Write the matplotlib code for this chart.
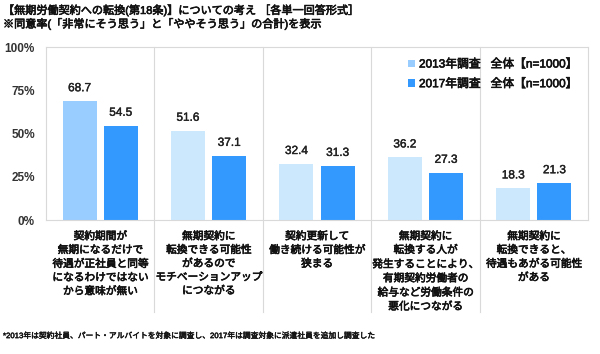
import matplotlib
matplotlib.use("Agg")
import matplotlib.pyplot as plt
import matplotlib.transforms as mtransforms
import matplotlib.patheffects as pe
import numpy as np

plt.rcParams['font.family'] = ['Liberation Sans', 'Noto Sans CJK JP', 'DejaVu Sans']

categories = [
    "契約期間が\n無期になるだけで\n待遇が正社員と同等\nになるわけではない\nから意味が無い",
    "無期契約に\n転換できる可能性\nがあるので\nモチベーションアップ\nにつながる",
    "契約更新して\n働き続ける可能性が\n狭まる",
    "無期契約に\n転換する人が\n発生することにより、\n有期契約労働者の\n給与など労働条件の\n悪化につながる",
    "無期契約に\n転換できると、\n待遇もあがる可能性\nがある",
]
values_2013 = [68.7, 51.6, 32.4, 36.2, 18.3]
values_2017 = [54.5, 37.1, 31.3, 27.3, 21.3]
series_names = ["2013年調査   全体【n=1000】", "2017年調査   全体【n=1000】"]
yticks = [0, 25, 50, 75, 100]
ytick_labels = ["0%", "25%", "50%", "75%", "100%"]
title1 = "【無期労働契約への転換(第18条)】についての考え ［各単一回答形式］"
title2 = "※同意率(「非常にそう思う」と「ややそう思う」の合計)を表示"
footnote = "*2013年は契約社員、パート・アルバイトを対象に調査し、2017年は調査対象に派遣社員を追加し調査した"

c2013 = "#CCE8FD"
c2013_hi = "#99CCFF"
c2017 = "#3399FF"
grid_c = "#D9D9D9"
txt_c = "#111111"

def bold(lw=0.45, c=txt_c):
    return [pe.withStroke(linewidth=lw, foreground=c)]

fig = plt.figure(figsize=(6.0, 3.54), dpi=100)
ax = fig.add_axes([46/600, 1-220/354, (588-46)/600, (220-47)/354])

x = np.arange(len(categories))
w = 0.315
off = 0.19
cols13 = [c2013_hi] + [c2013] * (len(categories) - 1)
b1 = ax.bar(x - off, values_2013, w, color=cols13, label=series_names[0])
b2 = ax.bar(x + off, values_2017, w, color=c2017, label=series_names[1])

for bars, vals in ((b1, values_2013), (b2, values_2017)):
    for r, v in zip(bars, vals):
        ax.annotate(f"{v:.1f}", (r.get_x() + r.get_width()/2, v),
                    xytext=(0, 5), textcoords="offset points",
                    ha="center", va="bottom", fontsize=8.5, color="#222222",
                    path_effects=bold(0.3, "#222222"))

ax.set_xlim(-0.5, len(categories) - 0.5)
ax.set_ylim(0, 100)
ax.set_yticks(yticks)
ax.set_yticklabels(ytick_labels, fontsize=8.5, fontweight="bold", color="#333333")
ax.tick_params(axis="y", length=0, pad=8)
ax.set_xticks([])
for s in ax.spines.values():
    s.set_color(grid_c)
    s.set_linewidth(0.8)

trans = mtransforms.blended_transform_factory(ax.transData, ax.transAxes)
for i in range(1, len(categories)):
    ax.plot([i - 0.5, i - 0.5], [1, -0.53], color=grid_c, lw=0.8,
            transform=trans, clip_on=False, zorder=0)

for i, c in enumerate(categories):
    ax.text(i, -0.065, c, transform=trans, ha="center", va="top",
            fontsize=7.7, linespacing=1.45, color=txt_c,
            path_effects=bold())

leg = ax.legend(loc="upper right", bbox_to_anchor=(1.0, 0.995), frameon=False,
                handlelength=0.6, handleheight=0.6, handletextpad=0.3,
                labelspacing=0.65, prop={'size': 8.5})
for t in leg.get_texts():
    t.set_path_effects(bold())
    t.set_color(txt_c)

fig.text(3/600, 1-10/354, title1, ha="left", va="center", fontsize=8,
         color=txt_c, path_effects=bold())
fig.text(3/600, 1-24/354, title2, ha="left", va="center", fontsize=8,
         color=txt_c, path_effects=bold())
fig.text(3/600, 1-336/354, footnote, ha="left", va="center", fontsize=5.6,
         color=txt_c, path_effects=bold(0.3))

fig.savefig("out.png", dpi=100)
